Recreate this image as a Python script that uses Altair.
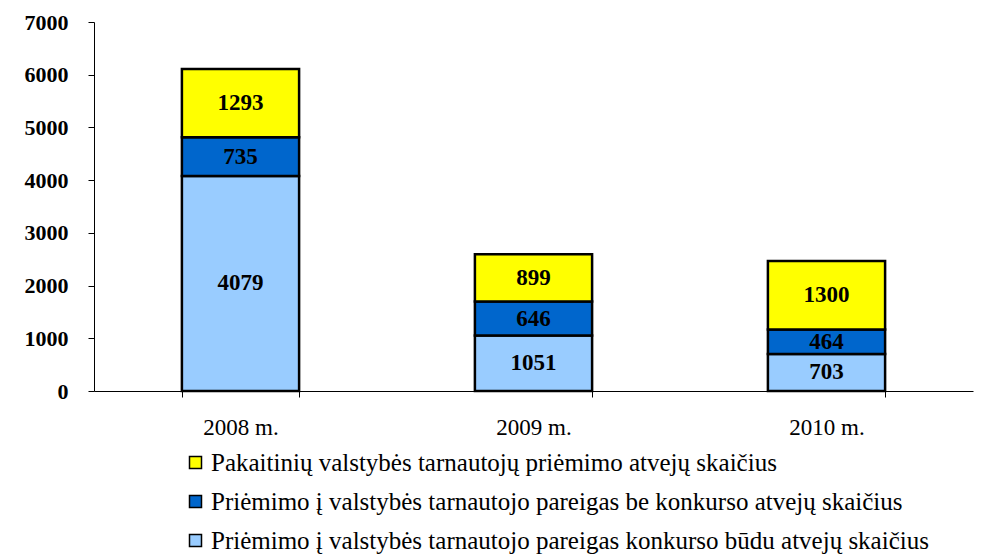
import altair as alt
import pandas as pd

years = ["2008 m.", "2009 m.", "2010 m."]
series = [
    "Priėmimo į valstybės tarnautojo pareigas konkurso būdu atvejų skaičius",
    "Priėmimo į valstybės tarnautojo pareigas be konkurso atvejų skaičius",
    "Pakaitinių valstybės tarnautojų priėmimo atvejų skaičius",
]
konkurso = [4079, 1051, 703]
be_konkurso = [735, 646, 464]
pakaitiniu = [1293, 899, 1300]
colors = ["#99CCFF", "#0066CC", "#FFFF00"]

rows = []
for si, (name, vals) in enumerate(zip(series, [konkurso, be_konkurso, pakaitiniu])):
    for y, v in zip(years, vals):
        rows.append({"year": y, "series": name, "value": v, "ord": si})
df = pd.DataFrame(rows)

FONT = "Liberation Serif"

base = alt.Chart(df).transform_stack(
    stack="value", groupby=["year"], sort=[alt.SortField("ord", order="ascending")], as_=["y0", "y1"]
).transform_calculate(mid="(datum.y0 + datum.y1) / 2")

x = alt.X("year:N", title=None, sort=years,
          scale=alt.Scale(paddingInner=0.6, paddingOuter=0.3),
          axis=alt.Axis(labelAngle=0, labelFont=FONT, labelFontSize=23, labelColor="black",
                        labelPadding=19, tickBand="extent", tickSize=6, tickColor="black",
                        domainColor="black", labelFontWeight="normal"))

bars = base.mark_bar(stroke="black", strokeWidth=2.5).encode(
    x=x,
    y=alt.Y("y0:Q", title=None,
            scale=alt.Scale(domain=[0, 7000]),
            axis=alt.Axis(values=[0, 1000, 2000, 3000, 4000, 5000, 6000, 7000], grid=False,
                          labelFont=FONT, labelFontSize=22, labelFontWeight="bold",
                          labelColor="black", tickSize=6, tickColor="black",
                          domainColor="black", labelPadding=20, format="d")),
    y2="y1:Q",
    color=alt.Color("series:N",
                    scale=alt.Scale(domain=[series[2], series[1], series[0]],
                                    range=[colors[2], colors[1], colors[0]]),
                    legend=alt.Legend(title=None, orient="none", legendX=89, legendY=428,
                                      symbolType="square", symbolSize=144,
                                      symbolStrokeColor="black", symbolStrokeWidth=1.5,
                                      labelFont=FONT, labelFontSize=25, labelColor="black",
                                      labelLimit=1000, rowPadding=13, labelOffset=3)),
)

labels = base.mark_text(font=FONT, fontSize=23, fontWeight="bold", color="black").encode(
    x=alt.X("year:N", sort=years),
    y=alt.Y("mid:Q"),
    text=alt.Text("value:Q"),
)

chart = alt.layer(bars, labels).properties(
    width=879, height=369,
    autosize=alt.AutoSizeParams(type="none"),
    padding={"left": 86, "top": 14, "right": 25, "bottom": 165},
).configure_view(stroke=None)

chart.save("out.html", embed_options={"renderer": "svg", "actions": False})
